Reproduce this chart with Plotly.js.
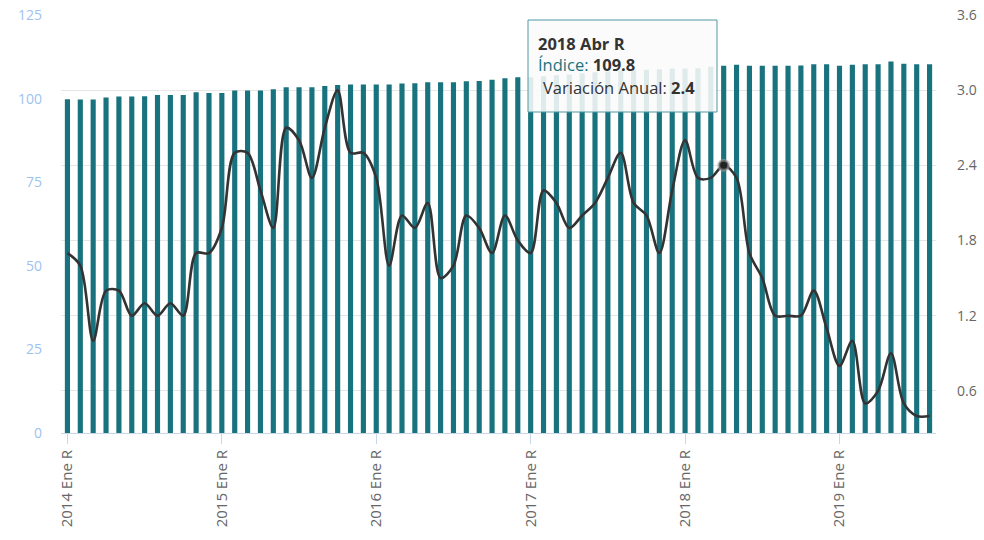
<!DOCTYPE html>
<html>
<head>
<meta charset="utf-8">
<script src="https://cdn.plot.ly/plotly-3.0.1.min.js"></script>
<style>html,body{margin:0;padding:0;background:#fff;}#chart{width:984px;height:540px;}</style>
</head>
<body>
<div id="chart"></div>
<script>
const years = [2014, 2015, 2016, 2017, 2018, 2019];
const months = ["Ene","Feb","Mar","Abr","May","Jun","Jul","Ago","Sep","Oct","Nov","Dic"];
const monthsLastYear = 8;

const indice2014 = [99.8, 99.7, 99.7, 100.3, 100.6, 100.6, 100.7, 101.1, 101.1, 101.1, 101.9, 101.7];
const indice2015 = [101.7, 102.4, 102.4, 102.4, 102.8, 103.4, 103.4, 103.4, 103.8, 104.1, 104.2, 104.2];
const indice2016 = [104.2, 104.2, 104.5, 104.6, 104.9, 104.9, 104.9, 105.2, 105.3, 105.6, 106.1, 106.4];
const indice2017 = [106.4, 106.7, 107.0, 107.2, 107.6, 107.9, 108.1, 108.4, 108.5, 108.6, 108.8, 109.0];
const indice2018 = [109.0, 109.1, 109.5, 109.8, 110.1, 109.8, 109.8, 109.8, 109.8, 109.9, 110.3, 110.3];
const indice2019 = [109.8, 110.1, 110.3, 110.3, 111.1, 110.4, 110.3, 110.3];

const variacion2014 = [1.7, 1.6, 1.0, 1.4, 1.4, 1.2, 1.3, 1.2, 1.3, 1.2, 1.7, 1.7];
const variacion2015 = [1.9, 2.5, 2.5, 2.2, 1.9, 2.7, 2.6, 2.3, 2.7, 3.0, 2.5, 2.5];
const variacion2016 = [2.3, 1.6, 2.0, 1.9, 2.1, 1.5, 1.6, 2.0, 1.9, 1.7, 2.0, 1.8];
const variacion2017 = [1.7, 2.2, 2.1, 1.9, 2.0, 2.1, 2.3, 2.5, 2.1, 2.0, 1.7, 2.2];
const variacion2018 = [2.6, 2.3, 2.3, 2.4, 2.3, 1.7, 1.5, 1.2, 1.2, 1.2, 1.4, 1.1];
const variacion2019 = [0.8, 1.0, 0.5, 0.6, 0.9, 0.5, 0.4, 0.4];

const leftTicks = [0, 25, 50, 75, 100, 125];
const rightTicks = [0.6, 1.2, 1.8, 2.4, 3.0, 3.6];

const categories = [];
years.forEach((y, yi) => {
  const n = (yi === years.length - 1) ? monthsLastYear : 12;
  for (let m = 0; m < n; m++) categories.push(y + " " + months[m] + " R");
});
const indice = [].concat(indice2014, indice2015, indice2016, indice2017, indice2018, indice2019);
const variacion = [].concat(variacion2014, variacion2015, variacion2016, variacion2017, variacion2018, variacion2019);
const xTickVals = years.map(y => y + " Ene R");

const hoverIdx = categories.indexOf("2018 Abr R");

const teal = "#18737f";
const font = "Open Sans, DejaVu Sans, sans-serif";

const traces = [
  {
    type: "bar", x: categories, y: indice, name: "Índice",
    marker: {color: teal}, yaxis: "y", hoverinfo: "skip"
  },
  {
    type: "scatter", mode: "lines", x: categories, y: variacion, name: "Variación Anual",
    line: {color: "#333333", width: 2.6, shape: "spline", smoothing: 0.9}, yaxis: "y2", hoverinfo: "skip"
  },
  {
    type: "scatter", mode: "markers", x: [categories[hoverIdx]], y: [variacion[hoverIdx]],
    marker: {color: "#222222", size: 10, line: {color: "rgba(160,160,160,0.55)", width: 3}},
    yaxis: "y2", hoverinfo: "skip", showlegend: false
  }
];

const L = 61, R = 936, T = 15, B = 433;
const px = v => (v - L) / (R - L);
const py = v => (B - v) / (B - T);

const layout = {
  width: 984, height: 540,
  margin: {l: L, r: 984 - R, t: T, b: 540 - B},
  paper_bgcolor: "#ffffff", plot_bgcolor: "#ffffff",
  showlegend: false,
  bargap: 0.6,
  font: {family: font},
  xaxis: {
    type: "category",
    tickvals: xTickVals, ticktext: xTickVals,
    tickangle: -90,
    tickfont: {size: 15, color: "#666666", family: font},
    ticks: "outside", ticklen: 10, tickcolor: "#ccd6eb", tickwidth: 1,
    showline: true, linecolor: "#ccd6eb", linewidth: 1,
    showgrid: false, zeroline: false,
    range: [-0.5, categories.length - 0.5],
    fixedrange: true
  },
  yaxis: {
    range: [0, 125],
    tickvals: leftTicks,
    tickfont: {size: 14, color: "#9ec2f0", family: font},
    showgrid: false, zeroline: false, showline: false,
    ticks: "", ticklabelstandoff: 18,
    fixedrange: true
  },
  yaxis2: {
    overlaying: "y", side: "right",
    range: [0.264, 3.6],
    tickvals: rightTicks, tickformat: ".1f",
    tickfont: {size: 14, color: "#666666", family: font},
    showgrid: true, gridcolor: "#e6e6e6", gridwidth: 1,
    zeroline: false, showline: false,
    ticks: "", ticklabelstandoff: 20,
    fixedrange: true
  },
  shapes: [
    {
      type: "rect", xref: "paper", yref: "paper",
      x0: px(528), x1: px(717), y0: py(112), y1: py(20),
      fillcolor: "rgba(250,250,250,0.88)",
      line: {color: "#4f98a2", width: 1}, layer: "above"
    }
  ],
  annotations: [
    {
      xref: "paper", yref: "paper", x: px(536), y: py(43), xanchor: "left", yanchor: "middle",
      text: "<b>" + categories[hoverIdx] + "</b>", showarrow: false,
      font: {size: 16.5, color: "#333333", family: font}
    },
    {
      xref: "paper", yref: "paper", x: px(536), y: py(65), xanchor: "left", yanchor: "middle",
      text: "<span style='color:" + teal + "'>Índice:</span> <b>" + indice[hoverIdx].toFixed(1) + "</b>", showarrow: false,
      font: {size: 16.5, color: "#333333", family: font}
    },
    {
      xref: "paper", yref: "paper", x: px(541), y: py(87), xanchor: "left", yanchor: "middle",
      text: "Variación Anual: <b>" + variacion[hoverIdx].toFixed(1) + "</b>", showarrow: false,
      font: {size: 16.5, color: "#333333", family: font}
    }
  ]
};

Plotly.newPlot("chart", traces, layout, {staticPlot: true, displayModeBar: false});
</script>
</body>
</html>
